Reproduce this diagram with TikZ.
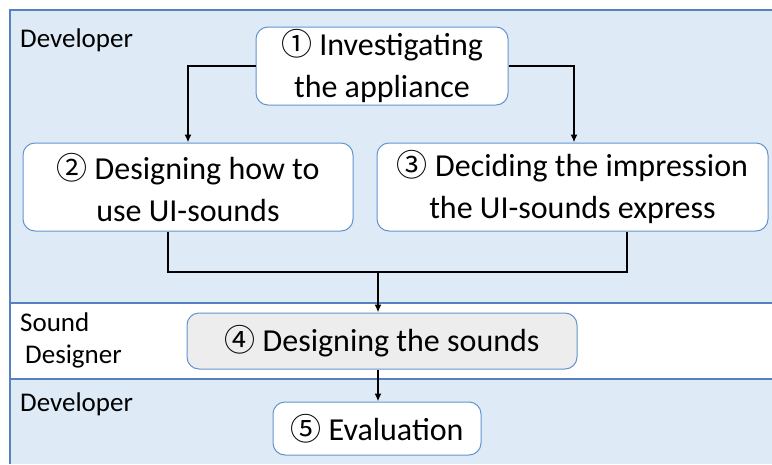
\documentclass[tikz,border=0pt]{standalone}
\usepackage{fontspec}
\setmainfont{Carlito}
\newfontfamily\circfont{Noto Sans CJK JP}
\usetikzlibrary{arrows.meta}

\definecolor{laneblue}{RGB}{222,235,247}
\definecolor{laneline}{RGB}{84,130,190}
\definecolor{boxline}{RGB}{100,148,205}
\definecolor{boxgray}{RGB}{237,237,237}

\tikzset{
    stepbox/.style={draw=boxline, line width=1pt, rounded corners=12pt, fill=white,
        align=center, inner sep=0pt, font=\fontsize{32}{42}\selectfont},
    lanelabel/.style={anchor=north west, align=left, inner sep=0pt,
        font=\fontsize{27}{32}\selectfont},
    flow/.style={line width=2pt, -{Latex[length=8pt,width=7pt]}},
    joint/.style={line width=2pt}
}
\newcommand{\cnum}[1]{{\circfont\fontsize{31}{42}\selectfont #1}}

\begin{document}
\begin{tikzpicture}[x=1pt,y=-1pt]
    \useasboundingbox (0,0) rectangle (772,464);

    % Draw the lanes
    \fill[laneblue] (10,10) rectangle (772,303);
    \fill[white] (10,303) rectangle (772,379);
    \fill[laneblue] (10,379) rectangle (772,464);
    \draw[laneline, line width=1.5pt] (772,10) -- (10,10) -- (10,464);
    \foreach \y in {303, 379} {
            \draw[laneline, line width=2pt] (10,\y) -- (772,\y);
        }

    % Label the lanes
    \node[lanelabel] (dev1) at (20,29) {Developer};
    \node[lanelabel] (snd) at (20,313) {Sound\\\hspace{5pt}Designer};
    \node[lanelabel] (dev2) at (20,393) {Developer};

    % Draw the steps
    \node[stepbox, minimum width=252pt, minimum height=78pt] (inv) at (382,66)
        {\cnum{①} Investigating\\the appliance};
    \node[stepbox, minimum width=330pt, minimum height=88pt] (how) at (188,187)
        {\cnum{②} Designing how to\\use UI-sounds};
    \node[stepbox, minimum width=391pt, minimum height=88pt] (imp) at (572.5,187)
        {\cnum{③} Deciding the impression\\the UI-sounds express};
    \node[stepbox, fill=boxgray, minimum width=390pt, minimum height=56pt] (snds) at (382,341)
        {\cnum{④} Designing the sounds};
    \node[stepbox, minimum width=208pt, minimum height=53pt] (eval) at (377,428.5)
        {\cnum{⑤} Evaluation};

    % Draw the connectors
    \coordinate (join) at (378,272);
    \draw[flow] (inv.west) -| (how.north);
    \draw[flow] (inv.east) -| ([xshift=1.5pt]imp.north);
    \draw[joint] ([xshift=-20pt]how.south) |- (join);
    \draw[joint] ([xshift=54.5pt]imp.south) |- (join);
    \draw[flow] (join) -- (join |- snds.north);
    \draw[flow] (join |- snds.south) -- (join |- eval.north);
\end{tikzpicture}
\end{document}
